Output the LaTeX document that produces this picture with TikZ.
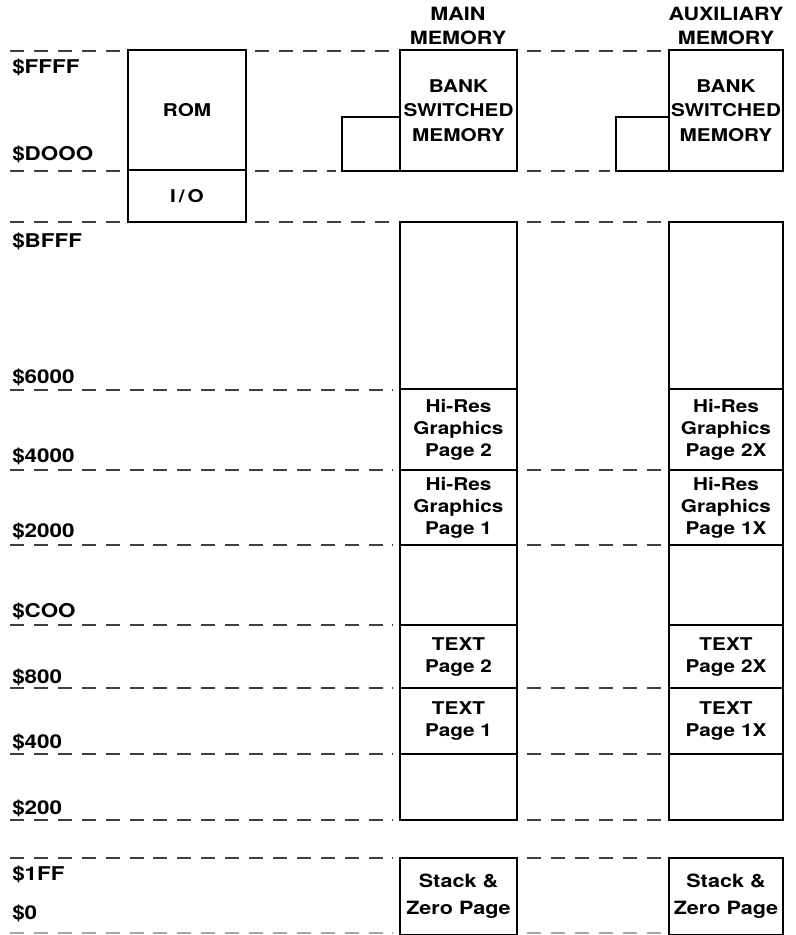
\documentclass[tikz,border=0pt]{standalone}
\usepackage{fontspec}
\setmainfont[FakeStretch=1.18]{TeX Gyre Heros}
\usetikzlibrary{positioning}
\tikzset{
  box/.style={rectangle,draw,line width=1pt,align=center,inner sep=0pt,outer sep=0pt,minimum width=29.25mm,font=\bfseries\fontsize{12.5}{15.6}\selectfont},
  bankbox/.style={box,minimum height=30.25mm,font=\bfseries\fontsize{12.5}{17.4}\selectfont},
  addr/.style={anchor=base west,inner sep=0pt,font=\bfseries\fontsize{13.5}{15}\selectfont},
  head/.style={align=center,inner sep=0pt,font=\bfseries\fontsize{13}{17}\selectfont},
  guide/.style={dash pattern=on 10pt off 7pt,line width=0.9pt,black!75}
}

\begin{document}
\begin{tikzpicture}[x=0.025cm,y=-0.025cm]
\useasboundingbox (0,0) rectangle (796,935);
% headings
\node[head] (mainhd) at (458,26) {MAIN\\MEMORY};
\node[head] (auxhd) at (726,26) {AUXILIARY\\MEMORY};

% rom and i/o
\node[box, minimum width=29.5mm, minimum height=30mm] (rom) at (187,110) {ROM};
\node[box, minimum width=29.5mm, minimum height=13mm, below=0pt of rom] (io) {I\,/\,O};

% main memory
\node[bankbox] (mbank) at (458.5,110.5) {BANK\\SWITCHED\\MEMORY};
\node[box, minimum width=14.5mm, minimum height=13.5mm, anchor=south east] (mbankx) at (mbank.south west) {};
\node[box, minimum height=41.75mm] (mtop) at (458.5,305.5) {};
\node[box, minimum height=20.25mm, below=0pt of mtop] (mhr2) {Hi-Res\\Graphics\\Page 2};
\node[box, minimum height=18.75mm, below=0pt of mhr2] (mhr1) {Hi-Res\\Graphics\\Page 1};
\node[box, minimum height=20mm, below=0pt of mhr1] (mfree) {};
\node[box, minimum height=15.75mm, below=0pt of mfree] (mtx2) {TEXT\\Page 2};
\node[box, minimum height=16.5mm, below=0pt of mtx2] (mtx1) {TEXT\\Page 1};
\node[box, minimum height=16.5mm, below=0pt of mtx1] (mlow) {};
\node[box, minimum height=19.25mm, font=\bfseries\fontsize{13}{19}\selectfont] (mstack) at (458.5,896.5) {Stack \&\\Zero Page};

% auxiliary memory
\node[bankbox, minimum width=28.5mm] (abank) at (726,110.5) {BANK\\SWITCHED\\MEMORY};
\node[box, minimum width=13.25mm, minimum height=13.5mm, anchor=south east] (abankx) at (abank.south west) {};
\node[box, minimum width=28.5mm, minimum height=41.75mm] (atop) at (726,305.5) {};
\node[box, minimum width=28.5mm, minimum height=20.25mm, below=0pt of atop] (ahr2) {Hi-Res\\Graphics\\Page 2X};
\node[box, minimum width=28.5mm, minimum height=18.75mm, below=0pt of ahr2] (ahr1) {Hi-Res\\Graphics\\Page 1X};
\node[box, minimum width=28.5mm, minimum height=20mm, below=0pt of ahr1] (afree) {};
\node[box, minimum width=28.5mm, minimum height=15.75mm, below=0pt of afree] (atx2) {TEXT\\Page 2X};
\node[box, minimum width=28.5mm, minimum height=16.5mm, below=0pt of atx2] (atx1) {TEXT\\Page 1X};
\node[box, minimum width=28.5mm, minimum height=16.5mm, below=0pt of atx1] (alow) {};
\node[box, minimum width=28.5mm, minimum height=19.25mm, font=\bfseries\fontsize{13}{19}\selectfont] (astack) at (726,896.5) {Stack \&\\Zero Page};

% addresses
\node[addr] (aFFFF) at (12,73) {\$FFFF};
\node[addr] (aD000) at (12,160) {\$DOOO};
\node[addr] (aBFFF) at (12,247) {\$BFFF};
\node[addr] (a6000) at (12,383) {\$6000};
\node[addr] (a4000) at (12,462) {\$4000};
\node[addr] (a2000) at (12,537) {\$2000};
\node[addr] (aC00) at (12,617) {\$COO};
\node[addr] (a800) at (12,683) {\$800};
\node[addr] (a400) at (12,748) {\$400};
\node[addr] (a200) at (12,814) {\$200};
\node[addr] (a1FF) at (12,880) {\$1FF};
\node[addr] (a0) at (12,919) {\$0};

% dashed guides
\draw[guide] (10,51) -- (120,51) (255,51) -- (393,51) (527,51) -- (662,51);
\draw[guide] (10,171) -- (120,171) (255,171) -- (336,171) (527,171) -- (610,171);
\draw[guide] (10,222) -- (120,222) (255,222) -- (393,222) (527,222) -- (662,222);
\draw[guide] (10,390) -- (393,390);
\draw[guide] (10,470) -- (393,470) (527,470) -- (662,470);
\draw[guide] (10,545) -- (393,545) (527,545) -- (662,545);
\draw[guide] (10,625) -- (393,625);
\draw[guide] (10,688) -- (393,688) (527,688) -- (662,688);
\draw[guide] (10,754) -- (393,754) (527,754) -- (662,754);
\draw[guide] (10,820) -- (393,820) (527,820) -- (662,820);
\draw[guide] (10,858) -- (393,858) (527,858) -- (662,858);
\draw[guide, black!35] (10,933) -- (393,933) (527,933) -- (662,933);
\end{tikzpicture}
\end{document}
